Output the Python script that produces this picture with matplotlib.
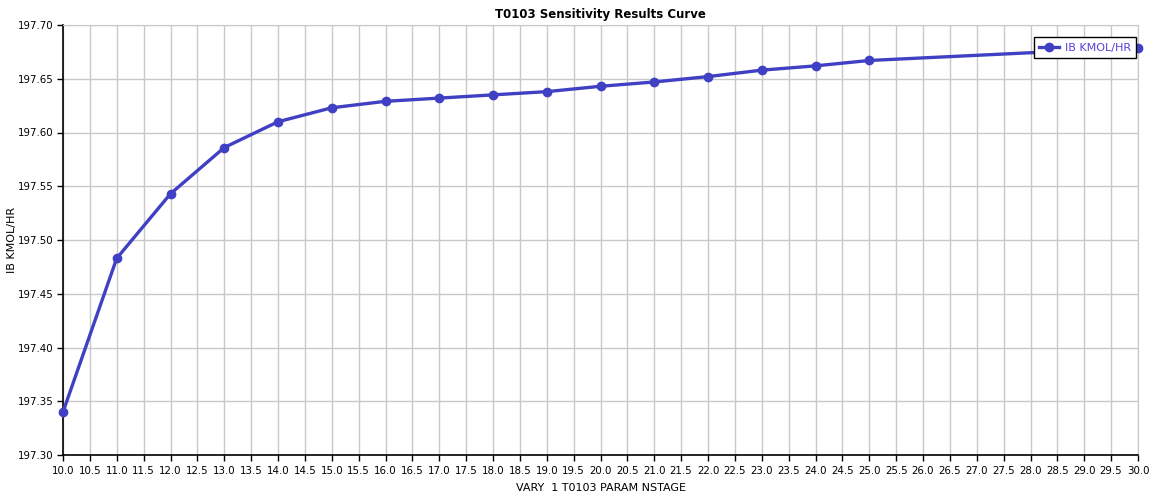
import numpy as np
import matplotlib
matplotlib.use("Agg")
import matplotlib.pyplot as plt

# sensitivity results: number of stages vs IB flow
nstage = [10, 11, 12, 13, 14, 15, 16, 17, 18, 19, 20, 21, 22, 23, 24, 25, 30]
ib_flow = [197.340, 197.483, 197.543, 197.586, 197.610, 197.623, 197.629, 197.632,
           197.635, 197.638, 197.643, 197.647, 197.652, 197.658, 197.662, 197.667, 197.679]

line_col = "#4040c4"
grid_col = "#c8c8c8"

fig = plt.figure(figsize=(11.49, 4.93), dpi=100)
ax = fig.add_axes([63 / 1149, 1 - 455 / 493, (1138 - 63) / 1149, (455 - 25) / 493])

ax.plot(nstage, ib_flow, color=line_col, lw=2.4, marker="o", ms=6,
        label="IB KMOL/HR", clip_on=False, zorder=3)

ax.set_xlim(10, 30)
ax.set_ylim(197.30, 197.70)
ax.set_xticks(np.arange(10, 30.01, 0.5))
ax.set_yticks(np.arange(197.30, 197.701, 0.05))
ax.xaxis.set_major_formatter(matplotlib.ticker.FormatStrFormatter("%.1f"))
ax.yaxis.set_major_formatter(matplotlib.ticker.FormatStrFormatter("%.2f"))
ax.tick_params(axis="both", labelsize=7.4, length=4, width=1, color="black")
ax.tick_params(axis="x", pad=4)
ax.tick_params(axis="y", pad=3)
ax.grid(True, color=grid_col, lw=1)
ax.set_axisbelow(True)

for s in ["top", "right"]:
    ax.spines[s].set_color(grid_col)
for s in ["left", "bottom"]:
    ax.spines[s].set_color("black")
    ax.spines[s].set_linewidth(1.2)

ax.set_title("T0103 Sensitivity Results Curve", fontsize=8.5, fontweight="bold", pad=5)
ax.set_xlabel("VARY  1 T0103 PARAM NSTAGE", fontsize=8)
ax.set_ylabel("IB KMOL/HR", fontsize=8)
ax.xaxis.set_label_coords(0.5, -0.065)
ax.yaxis.set_label_coords(-0.043, 0.5)

leg = ax.legend(loc="upper right", bbox_to_anchor=(0.9985, 0.972), fontsize=8,
                frameon=True, fancybox=False, borderpad=0.5, handlelength=1.8,
                handletextpad=0.5, borderaxespad=0)
leg.get_frame().set_edgecolor("black")
leg.get_frame().set_linewidth(1.0)
leg.get_frame().set_alpha(1)
for t in leg.get_texts():
    t.set_color("#5a3fd6")

fig.savefig("out.png", dpi=100)
